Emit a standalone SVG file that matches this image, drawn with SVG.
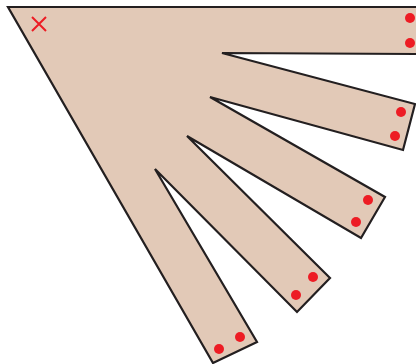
<svg xmlns="http://www.w3.org/2000/svg" width="416" height="364" viewBox="0 0 416 364">
<style>
.hand{fill:#e2c9b7;stroke:#231f20;stroke-width:2.2;stroke-linejoin:miter}
.dot{fill:#ed1c24}
.x{stroke:#ed1c24;stroke-width:2;fill:none}
</style>
<rect width="416" height="364" fill="#ffffff"/>
<path class="hand" d="M8,7 L420,7 L420,54 L222,53 L415,104 L403,150 L210,97 L385,197 L361,238 L187,136 L330,278 L297,312 L155,169 L257,342 L213,363 Z"/>
<g id="cross"><path class="x" d="M32,17 L46,31 M46,17 L32,31"/></g>
<g id="dots">
<circle class="dot" cx="410" cy="18" r="5"/>
<circle class="dot" cx="410" cy="43" r="5"/>
<circle class="dot" cx="401" cy="112" r="5"/>
<circle class="dot" cx="395" cy="136" r="5"/>
<circle class="dot" cx="368" cy="200" r="5"/>
<circle class="dot" cx="356" cy="222" r="5"/>
<circle class="dot" cx="313" cy="277" r="5"/>
<circle class="dot" cx="296" cy="295" r="5"/>
<circle class="dot" cx="240" cy="337" r="5"/>
<circle class="dot" cx="219" cy="349" r="5"/>
</g>
</svg>
